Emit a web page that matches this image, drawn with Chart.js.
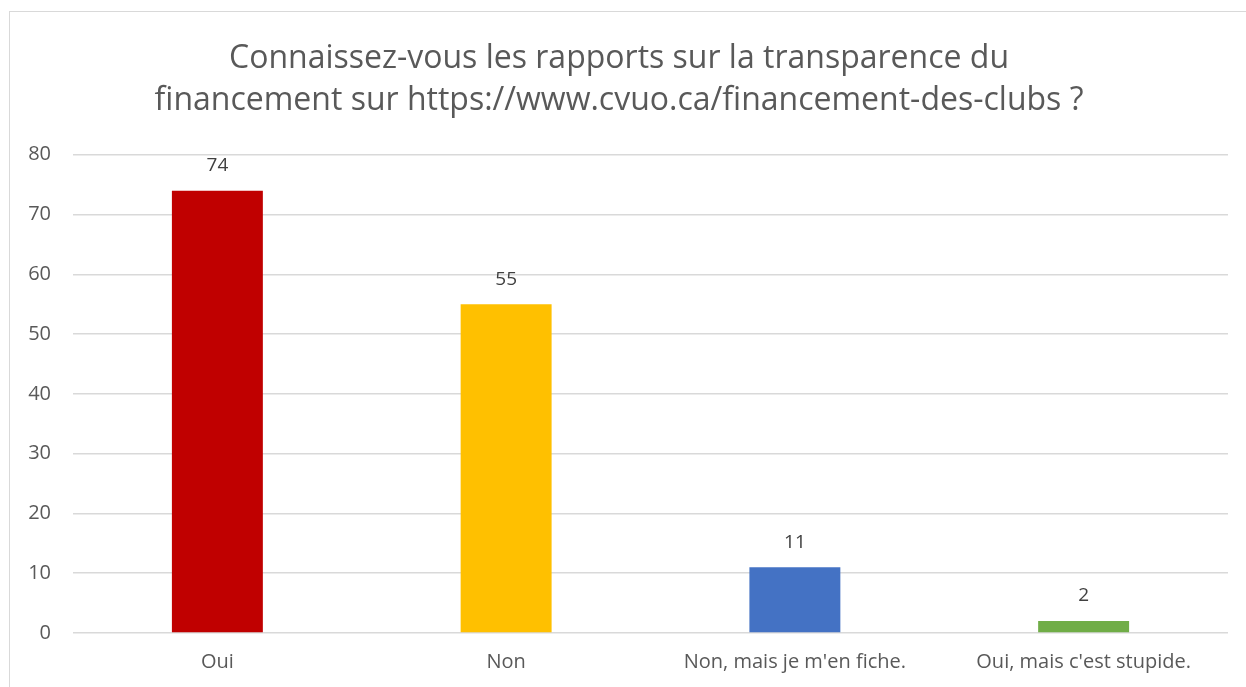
<!DOCTYPE html>
<html>
<head>
<meta charset="utf-8">
<script src="https://cdn.jsdelivr.net/npm/chart.js@4.4.0/dist/chart.umd.min.js"></script>
<style>
  body { margin: 0; background: #fff; overflow: hidden; }
  #frame { position: absolute; left: 9px; top: 11px; width: 1300px; height: 700px; border: 1px solid #d9d9d9; }
  #chart { position: absolute; left: 0; top: 0; }
</style>
</head>
<body>
<div id="frame"><canvas id="chart" width="1236" height="675"></canvas></div>
<script>
const categories = ['Oui', 'Non', "Non, mais je m'en fiche.", "Oui, mais c'est stupide."];
const counts = [74, 55, 11, 2];
const barColors = ['#C00000', '#FFC000', '#4472C4', '#70AD47'];
const titleLines = [
  'Connaissez-vous les rapports sur la transparence du',
  'financement sur https://www.cvuo.ca/financement-des-clubs ?'
];
const fontFamily = "'Open Sans', 'Noto Sans', sans-serif";

const valueLabels = {
  id: 'valueLabels',
  afterDatasetsDraw(chart) {
    const ctx = chart.ctx;
    const meta = chart.getDatasetMeta(0);
    ctx.save();
    ctx.font = '19px ' + fontFamily;
    ctx.fillStyle = '#404040';
    ctx.textAlign = 'center';
    ctx.textBaseline = 'middle';
    meta.data.forEach((bar, i) => {
      ctx.fillText(String(counts[i]), bar.x, bar.y - 25);
    });
    ctx.restore();
  }
};

new Chart(document.getElementById('chart'), {
  type: 'bar',
  data: {
    labels: categories,
    datasets: [{
      data: counts,
      backgroundColor: barColors,
      barPercentage: 0.315,
      categoryPercentage: 1
    }]
  },
  options: {
    responsive: false,
    animation: false,
    layout: { padding: { left: 0, right: 18, top: 0, bottom: 0 } },
    plugins: {
      legend: { display: false },
      tooltip: { enabled: false },
      title: {
        display: true,
        text: titleLines,
        color: '#595959',
        font: { family: fontFamily, size: 32, weight: 'normal', lineHeight: 1.34 },
        padding: { top: 25, bottom: 32 }
      }
    },
    scales: {
      x: {
        grid: { display: false, drawTicks: false },
        border: { display: false },
        ticks: { color: '#595959', font: { family: fontFamily, size: 20 }, padding: 17, maxRotation: 0 },
        afterFit(scale) { scale.height = 54; }
      },
      y: {
        min: 0,
        max: 80,
        ticks: { stepSize: 10, color: '#595959', font: { family: fontFamily, size: 20 }, padding: 22 },
        grid: { color: '#d9d9d9', lineWidth: 1.5, drawTicks: false },
        border: { display: false },
        afterFit(scale) { scale.width = 63; }
      }
    }
  },
  plugins: [valueLabels]
});
</script>
</body>
</html>
